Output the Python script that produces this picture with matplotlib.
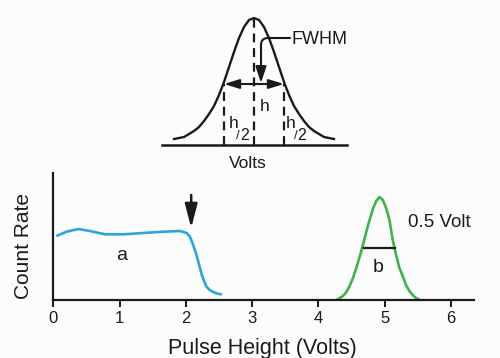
import matplotlib
matplotlib.use("Agg")
import matplotlib.pyplot as plt

plt.rcParams['font.family'] = ['Liberation Sans', 'DejaVu Sans']

# ---- main chart data (Pulse Height in volts, count rate in arbitrary units) ----
a_x = [0.06, 0.20, 0.38, 0.55, 0.78, 1.06, 1.36, 1.66, 1.91, 2.01, 2.06, 2.11, 2.16,
       2.20, 2.24, 2.28, 2.31, 2.36, 2.42, 2.48, 2.53]
a_y = [64.3, 68.3, 71.0, 69.0, 65.7, 65.7, 67.0, 68.3, 69.0, 67.0, 63.5, 55.0, 45.0,
       35.0, 25.0, 18.0, 13.3, 10.0, 7.7, 6.3, 5.7]

b_x = [4.27, 4.32, 4.37, 4.42, 4.47, 4.52, 4.57, 4.62, 4.67, 4.72, 4.77, 4.82, 4.87,
       4.92, 4.97, 5.02, 5.07, 5.12, 5.17, 5.22, 5.27, 5.32, 5.37, 5.42, 5.47, 5.53]
b_y = [0, 2, 4, 8, 14, 22, 32, 43, 55, 68, 80, 91, 99,
       103, 100, 92, 80, 60, 45, 32, 24, 15, 9, 5, 2, 0]

b_half_x = [4.68, 5.15]
b_half_y = 51.7

x_ticks = [0, 1, 2, 3, 4, 5, 6]
arrow_x = 2.08
arrow_top, arrow_tip = 105, 72

# ---- inset (schematic FWHM definition), horizontal offset from peak ----
ins_x = [-80, -75, -70, -65, -60, -55, -50, -45, -40, -35, -30, -25, -20, -15, -10, -5, 0,
         5, 10, 15, 20, 25, 30, 35, 40, 45, 50, 55, 60, 65, 70, 75, 80]
ins_y = [6, 7, 8, 11, 14, 18, 24, 31, 39, 50, 63, 78, 93, 107, 118, 125, 127,
         125, 118, 107, 93, 78, 63, 50, 39, 31, 24, 18, 14, 11, 8, 7, 6]
ins_peak = 127
ins_half = 61
ins_half_x = 30

BLUE = '#27a7df'
GREEN = '#3bb44a'
INK = '#1a1a1a'

fig = plt.figure(figsize=(5.0, 3.58), dpi=100)
fig.patch.set_facecolor('#fcfcfc')

# main axes
ax = fig.add_axes([53.3 / 500, 58 / 358, 421 / 500, 127 / 358])
ax.set_facecolor('none')
ax.set_xlim(0, 6.35)
ax.set_ylim(0, 127)
ax.plot(a_x, a_y, color=BLUE, lw=1.9, solid_capstyle='round')
ax.plot(b_x, b_y, color=GREEN, lw=1.9, solid_capstyle='round')
ax.plot(b_half_x, [b_half_y, b_half_y], color=INK, lw=1.6)

ax.annotate('', xy=(arrow_x, arrow_tip), xytext=(arrow_x, arrow_top),
            arrowprops=dict(arrowstyle='-|>,head_length=0.85,head_width=0.22',
                            color=INK, lw=1.8, shrinkA=0, shrinkB=0,
                            mutation_scale=17))

ax.text(1.03, 40, 'a', fontsize=14, ha='center', va='baseline', color=INK)
ax.text(4.90, 28.3, 'b', fontsize=14, ha='center', va='baseline', color=INK)
ax.text(5.345, 73.3, '0.5 Volt', fontsize=13.5, ha='left', va='baseline', color=INK)

for s in ['top', 'right']:
    ax.spines[s].set_visible(False)
for s in ['left', 'bottom']:
    ax.spines[s].set_linewidth(1.6)
    ax.spines[s].set_color(INK)
ax.set_yticks([])
ax.set_xticks(x_ticks)
ax.set_xticklabels([str(t) for t in x_ticks])
ax.tick_params(axis='x', direction='out', length=5, width=1.4, pad=3,
               labelsize=12, colors=INK)
ax.set_xlabel('Pulse Height (Volts)', fontsize=15.5, color=INK)
ax.xaxis.set_label_coords(0.497, -0.30)
ax.xaxis.label.set_va('top')
ax.set_ylabel('Count Rate', fontsize=15, color=INK)
ax.yaxis.set_label_coords(-0.048, 0.425)

# inset axes
ins = fig.add_axes([162 / 500, 213 / 358, 185 / 500, 135 / 358])
ins.set_xlim(-92, 93)
ins.set_ylim(0, 135)
ins.axis('off')
ins.plot([-92, 93], [0, 0], color=INK, lw=1.8, clip_on=False)
ins.plot(ins_x, ins_y, color=INK, lw=1.7, clip_on=False)
ins.plot([0, 0], [0, ins_peak], color=INK, lw=1.6, dashes=(4, 2.6))
ins.plot([-ins_half_x, -ins_half_x], [0, ins_half], color=INK, lw=1.6, dashes=(4, 2.6))
ins.plot([ins_half_x, ins_half_x], [0, ins_half], color=INK, lw=1.6, dashes=(4, 2.6))
ins.annotate('', xy=(-ins_half_x, ins_half), xytext=(ins_half_x, ins_half),
             arrowprops=dict(arrowstyle='<|-|>,head_length=0.65,head_width=0.2',
                             color=INK, lw=1.5, shrinkA=0, shrinkB=0,
                             mutation_scale=14))
ins.annotate('', xy=(7, ins_half + 1), xytext=(36, 107),
             arrowprops=dict(arrowstyle='-|>,head_length=0.7,head_width=0.23',
                             connectionstyle='angle,angleA=0,angleB=90,rad=7',
                             color=INK, lw=1.5, shrinkA=0, shrinkB=0,
                             mutation_scale=14))
ins.text(37.7, 100.5, 'FWHM', fontsize=13, ha='left', va='baseline', color=INK)
ins.text(6, 34.3, 'h', fontsize=12.5, ha='left', va='baseline', color=INK)
for x0 in (-25.7, 31.6):
    ins.text(x0, 16.7, 'h', fontsize=12.5, ha='left', va='baseline', color=INK)
    ins.text(x0 + 8.0, 6.5, '/', fontsize=9.5, ha='left', va='baseline', color=INK)
    ins.text(x0 + 12.0, 5.0, '2', fontsize=11.5, ha='left', va='baseline', color=INK)
ins.text(-6, -23.3, 'Volts', fontsize=12.5, ha='center', va='baseline', color=INK)

fig.savefig('out.png', dpi=100, facecolor=fig.get_facecolor())
